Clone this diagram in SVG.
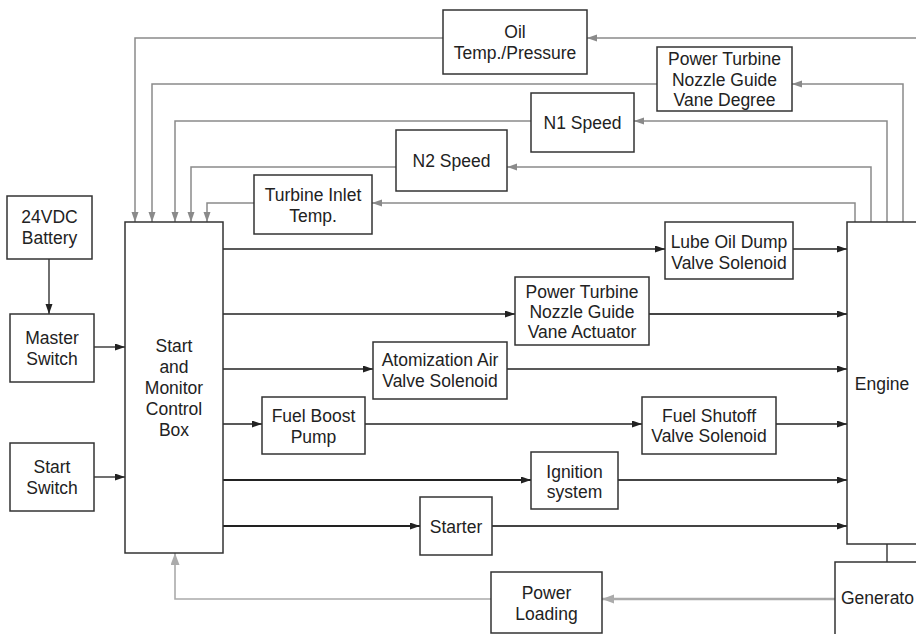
<svg xmlns="http://www.w3.org/2000/svg" width="916" height="634" viewBox="0 0 916 634">
<style>
  .box { fill: #ffffff; stroke: #333333; stroke-width: 1.5; }
  .t { font-family: "Liberation Sans", Arial, sans-serif; font-size: 17.5px; fill: #222222; text-anchor: middle; }
  .blk { fill: none; stroke: #222222; stroke-width: 1.3; }
  .blk2 { fill: none; stroke: #222222; stroke-width: 2; }
  .dg { fill: none; stroke: #444444; stroke-width: 1.8; }
  .gry { fill: none; stroke: #8a8a8a; stroke-width: 1.5; }
  .lgt { fill: none; stroke: #ababab; stroke-width: 1.6; }
  .lgt2 { fill: none; stroke: #ababab; stroke-width: 2.6; }
</style>
<defs>
  <marker id="ab" markerUnits="userSpaceOnUse" markerWidth="11" markerHeight="8" refX="10" refY="3.5" orient="auto">
    <path d="M0,0 L10,3.5 L0,7 z" fill="#222222"/>
  </marker>
  <marker id="ag" markerUnits="userSpaceOnUse" markerWidth="11" markerHeight="8" refX="10" refY="3.5" orient="auto">
    <path d="M0,0 L10,3.5 L0,7 z" fill="#8a8a8a"/>
  </marker>
  <marker id="al" markerUnits="userSpaceOnUse" markerWidth="13" markerHeight="10" refX="12" refY="4.5" orient="auto">
    <path d="M0,0 L12,4.5 L0,9 z" fill="#ababab"/>
  </marker>
</defs>

<g id="connectors">
  <!-- feedback signals -->
  <path class="gry" d="M 920 38 H 587" marker-end="url(#ag)"/>
  <path class="gry" d="M 443 38 H 135 V 222" marker-end="url(#ag)"/>
  <path class="gry" d="M 903 222 V 84 H 792" marker-end="url(#ag)"/>
  <path class="gry" d="M 657 84 H 152 V 222" marker-end="url(#ag)"/>
  <path class="gry" d="M 887 222 V 121 H 634" marker-end="url(#ag)"/>
  <path class="gry" d="M 531 121 H 175 V 222" marker-end="url(#ag)"/>
  <path class="gry" d="M 871 222 V 167 H 507" marker-end="url(#ag)"/>
  <path class="gry" d="M 396 167 H 191 V 222" marker-end="url(#ag)"/>
  <path class="gry" d="M 855 222 V 203 H 372" marker-end="url(#ag)"/>
  <path class="gry" d="M 254 203 H 207 V 222" marker-end="url(#ag)"/>
  <!-- inputs -->
  <path class="blk" d="M 49 259 V 314" marker-end="url(#ab)"/>
  <path class="blk" d="M 94 347 H 125" marker-end="url(#ab)"/>
  <path class="blk" d="M 94 477 H 125" marker-end="url(#ab)"/>
  <!-- outputs -->
  <path class="blk" d="M 223 249 H 665" marker-end="url(#ab)"/>
  <path class="blk" d="M 793 249 H 847" marker-end="url(#ab)"/>
  <path class="blk" d="M 223 314 H 515" marker-end="url(#ab)"/>
  <path class="dg" d="M 649 314 H 847" marker-end="url(#ab)"/>
  <path class="blk" d="M 223 369 H 373" marker-end="url(#ab)"/>
  <path class="blk" d="M 507 369 H 847" marker-end="url(#ab)"/>
  <path class="blk" d="M 223 424 H 262" marker-end="url(#ab)"/>
  <path class="blk" d="M 365 424 H 642" marker-end="url(#ab)"/>
  <path class="blk" d="M 776 424 H 847" marker-end="url(#ab)"/>
  <path class="blk2" d="M 223 480 H 531" marker-end="url(#ab)"/>
  <path class="dg" d="M 618 480 H 847" marker-end="url(#ab)"/>
  <path class="blk2" d="M 223 526 H 420" marker-end="url(#ab)"/>
  <path class="dg" d="M 492 526 H 847" marker-end="url(#ab)"/>
  <path class="blk" d="M 887 544 V 562"/>
  <!-- power loading -->
  <path class="lgt2" d="M 835 599 H 602" marker-end="url(#al)"/>
  <path class="lgt" d="M 491 599 H 175 V 553" marker-end="url(#al)"/>
</g>

<g id="battery">
  <rect class="box" x="7" y="196" width="85" height="63"/>
  <text class="t" x="49.5" y="223">24VDC</text>
  <text class="t" x="49.5" y="244">Battery</text>
</g>
<g id="master-switch">
  <rect class="box" x="10" y="314" width="84" height="68"/>
  <text class="t" x="52" y="344">Master</text>
  <text class="t" x="52" y="365">Switch</text>
</g>
<g id="start-switch">
  <rect class="box" x="10" y="443" width="84" height="68"/>
  <text class="t" x="52" y="473">Start</text>
  <text class="t" x="52" y="494">Switch</text>
</g>
<g id="control-box">
  <rect class="box" x="125" y="222" width="98" height="331"/>
  <text class="t" x="174" y="352">Start</text>
  <text class="t" x="174" y="373">and</text>
  <text class="t" x="174" y="394">Monitor</text>
  <text class="t" x="174" y="415">Control</text>
  <text class="t" x="174" y="436">Box</text>
</g>
<g id="oil-temp">
  <rect class="box" x="443" y="10" width="144" height="64"/>
  <text class="t" x="515" y="38">Oil</text>
  <text class="t" x="515" y="59">Temp./Pressure</text>
</g>
<g id="ptngv-degree">
  <rect class="box" x="657" y="47" width="135" height="64"/>
  <text class="t" x="724.5" y="65">Power Turbine</text>
  <text class="t" x="724.5" y="86">Nozzle Guide</text>
  <text class="t" x="724.5" y="106">Vane Degree</text>
</g>
<g id="n1-speed">
  <rect class="box" x="531" y="93" width="103" height="59"/>
  <text class="t" x="582.5" y="129">N1 Speed</text>
</g>
<g id="n2-speed">
  <rect class="box" x="396" y="130" width="111" height="61"/>
  <text class="t" x="451.5" y="167">N2 Speed</text>
</g>
<g id="turbine-inlet">
  <rect class="box" x="254" y="175" width="118" height="59"/>
  <text class="t" x="313" y="201">Turbine Inlet</text>
  <text class="t" x="313" y="222">Temp.</text>
</g>
<g id="lube-oil">
  <rect class="box" x="665" y="222" width="128" height="57"/>
  <text class="t" x="729" y="248">Lube Oil Dump</text>
  <text class="t" x="729" y="269">Valve Solenoid</text>
</g>
<g id="ptngv-actuator">
  <rect class="box" x="515" y="277" width="134" height="68"/>
  <text class="t" x="582" y="298">Power Turbine</text>
  <text class="t" x="582" y="318">Nozzle Guide</text>
  <text class="t" x="582" y="338">Vane Actuator</text>
</g>
<g id="atomization">
  <rect class="box" x="373" y="342" width="134" height="57"/>
  <text class="t" x="440" y="366">Atomization Air</text>
  <text class="t" x="440" y="387">Valve Solenoid</text>
</g>
<g id="fuel-boost">
  <rect class="box" x="262" y="397" width="103" height="57"/>
  <text class="t" x="313.5" y="422">Fuel Boost</text>
  <text class="t" x="313.5" y="443">Pump</text>
</g>
<g id="fuel-shutoff">
  <rect class="box" x="642" y="397" width="134" height="57"/>
  <text class="t" x="709" y="422">Fuel Shutoff</text>
  <text class="t" x="709" y="442">Valve Solenoid</text>
</g>
<g id="ignition">
  <rect class="box" x="531" y="452" width="87" height="57"/>
  <text class="t" x="574.5" y="478">Ignition</text>
  <text class="t" x="574.5" y="498">system</text>
</g>
<g id="starter">
  <rect class="box" x="420" y="497" width="72" height="58"/>
  <text class="t" x="456" y="533">Starter</text>
</g>
<g id="power-loading">
  <rect class="box" x="491" y="572" width="111" height="61"/>
  <text class="t" x="546.5" y="599">Power</text>
  <text class="t" x="546.5" y="620">Loading</text>
</g>
<g id="engine">
  <rect class="box" x="847" y="222" width="90" height="322"/>
  <text class="t" x="882" y="390">Engine</text>
</g>
<g id="generator">
  <rect class="box" x="835" y="562" width="100" height="90"/>
  <text class="t" x="841" y="604" style="text-anchor:start">Generato</text>
</g>
</svg>
